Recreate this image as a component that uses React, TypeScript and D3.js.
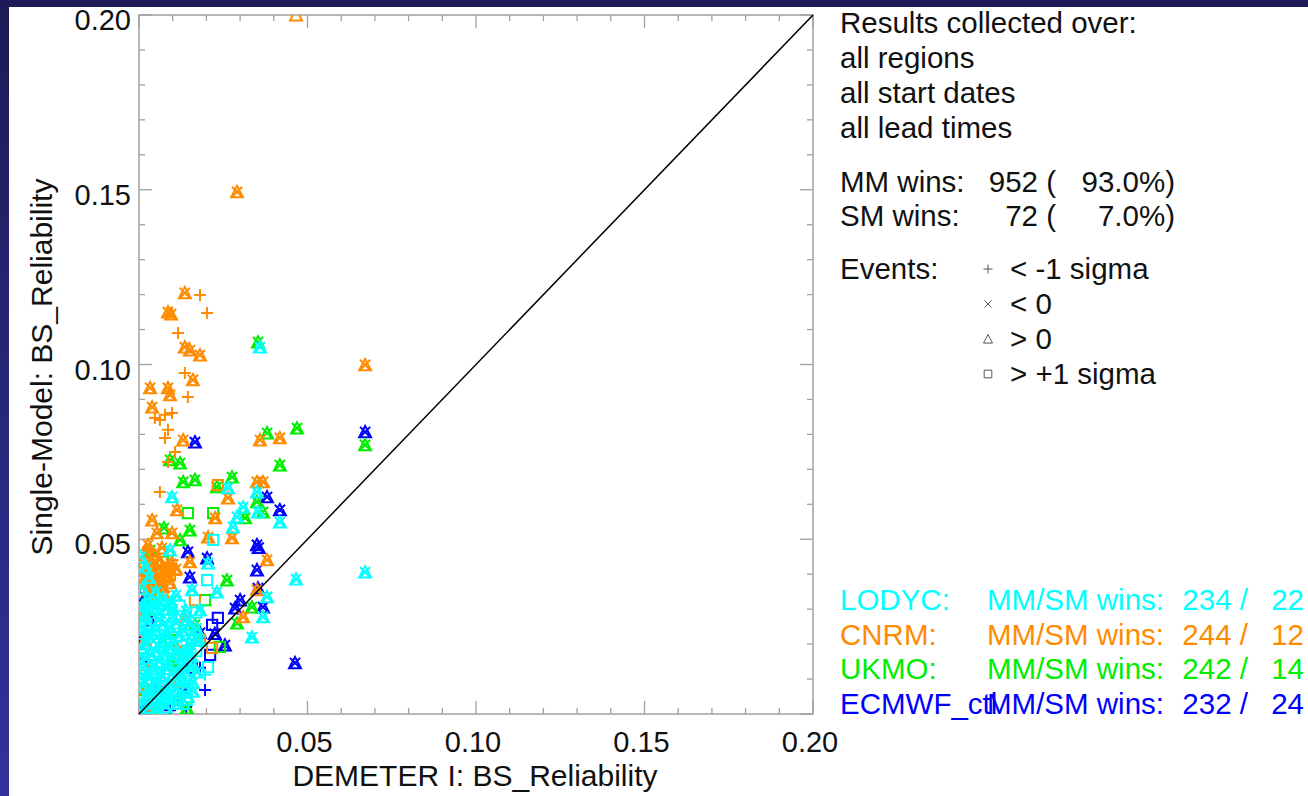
import React from 'react';
import * as d3 from 'd3';

type Pt = [number, number, string];

// values: [DEMETER BS_Reliability, single-model BS_Reliability, event marker]
const ecmwfPts: Pt[] = [
  [0.0671, 0.0807, 'xt'], [0.0166, 0.0778, 'xt'], [0.0380, 0.0621, 'xt'], [0.0418, 0.0584, 'xt'],
  [0.0350, 0.0484, 'xt'], [0.0355, 0.0476, 'xt'], [0.0145, 0.0464, 'xt'], [0.0350, 0.0412, 'xt'],
  [0.0018, 0.0335, 'xt'], [0.0368, 0.0306, 'xt'], [0.0285, 0.0303, 'xt'], [0.0463, 0.0146, 'xt'],
  [0.0234, 0.0275, 's'], [0.0217, 0.0255, 's'], [0.0181, 0.0232, 'xt'], [0.0181, 0.0132, 'p'],
  [0.0092, 0.0011, 'p'], [0.0157, 0.0132, 's'], [0.0062, 0.0069, 'xt'], [0.0202, 0.0446, 'xt'],
  [0.0151, 0.0392, 'xt'], [0.0009, 0.0212, 'xt'], [0.0116, 0.0040, 'p'], [0.0255, 0.0197, 'xt'],
  [0.0211, 0.0169, 's'], [0.0131, 0.0069, 'xt'], [0.0033, 0.0269, 'xt'], [0.0300, 0.0326, 'xt'],
  [0.0196, 0.0069, 'p'], [0.0012, 0.0150, 'xt'], [0.0140, 0.0020, 'p'], [0.0225, 0.0230, 'xt'],
  [0.0015, 0.0025, 'xt'], [0.0353, 0.0360, 'xt'],
];

const ukmoPts: Pt[] = [
  [0.0353, 0.1064, 'xt'], [0.0469, 0.0818, 'xt'], [0.0380, 0.0804, 'xt'], [0.0418, 0.0712, 'xt'],
  [0.0671, 0.0770, 'xt'], [0.0092, 0.0727, 'xt'], [0.0122, 0.0718, 'xt'], [0.0131, 0.0664, 'xt'],
  [0.0166, 0.0670, 'xt'], [0.0231, 0.0650, 'xt'], [0.0276, 0.0678, 'xt'], [0.0350, 0.0607, 'xt'],
  [0.0368, 0.0578, 'xt'], [0.0315, 0.0561, 'xt'], [0.0145, 0.0575, 's'], [0.0220, 0.0575, 's'],
  [0.0151, 0.0526, 'xt'], [0.0122, 0.0498, 'xt'], [0.0071, 0.0435, 's'], [0.0261, 0.0383, 'xt'],
  [0.0335, 0.0306, 'xt'], [0.0291, 0.0260, 'xt'], [0.0240, 0.0192, 's'], [0.0042, 0.0335, 'xt'],
  [0.0142, 0.0017, 'xt'], [0.0074, 0.0532, 'xt'], [0.0018, 0.0069, 'xt'], [0.0092, 0.0212, 's'],
  [0.0166, 0.0255, 'xt'], [0.0062, 0.0069, 'p'], [0.0196, 0.0326, 's'], [0.0018, 0.0298, 'xt'],
  [0.0033, 0.0469, 'xt'], [0.0110, 0.0140, 'xt'], [0.0050, 0.0020, 'xt'],
];

const cnrmPts: Pt[] = [
  [0.0466, 0.2000, 't'], [0.0291, 0.1494, 'xt'], [0.0671, 0.0999, 'xt'], [0.0136, 0.1205, 'xt'],
  [0.0181, 0.1199, 'p'], [0.0202, 0.1147, 'p'], [0.0086, 0.1150, 'xt'], [0.0095, 0.1144, 'xt'],
  [0.0116, 0.1090, 'p'], [0.0136, 0.1050, 'xt'], [0.0151, 0.1041, 'xt'], [0.0181, 0.1027, 'xt'],
  [0.0136, 0.0976, 'p'], [0.0160, 0.0956, 'xt'], [0.0033, 0.0933, 'xt'], [0.0086, 0.0933, 'xt'],
  [0.0092, 0.0913, 'xt'], [0.0145, 0.0907, 'p'], [0.0039, 0.0878, 'xt'], [0.0047, 0.0847, 'p'],
  [0.0062, 0.0841, 'p'], [0.0077, 0.0856, 'p'], [0.0098, 0.0861, 'p'], [0.0086, 0.0813, 'p'],
  [0.0077, 0.0790, 'p'], [0.0131, 0.0784, 'xt'], [0.0359, 0.0784, 'xt'], [0.0418, 0.0790, 'xt'],
  [0.0107, 0.0750, 'p'], [0.0086, 0.0721, 'p'], [0.0234, 0.0655, 's'], [0.0350, 0.0664, 'xt'],
  [0.0368, 0.0664, 'xt'], [0.0062, 0.0635, 'p'], [0.0264, 0.0618, 'xt'], [0.0276, 0.0504, 'xt'],
  [0.0113, 0.0584, 'xt'], [0.0226, 0.0561, 'xt'], [0.0098, 0.0518, 'xt'], [0.0053, 0.0518, 'xt'],
  [0.0205, 0.0506, 'xt'], [0.0151, 0.0435, 'xt'], [0.0380, 0.0441, 'xt'], [0.0350, 0.0355, 'xt'],
  [0.0309, 0.0278, 'xt'], [0.0217, 0.0189, 's'], [0.0122, 0.0092, 's'], [0.0033, 0.0010, 'p'],
  [0.0033, 0.0426, 'xt'], [0.0053, 0.0418, 'xt'], [0.0071, 0.0406, 'xt'], [0.0086, 0.0423, 'xt'],
  [0.0039, 0.0389, 'xt'], [0.0062, 0.0383, 'xt'], [0.0092, 0.0375, 'xt'], [0.0027, 0.0355, 'xt'],
  [0.0056, 0.0349, 'xt'], [0.0077, 0.0338, 'xt'], [0.0107, 0.0398, 'p'], [0.0047, 0.0455, 'xt'],
  [0.0027, 0.0484, 'xt'], [0.0068, 0.0475, 'xt'], [0.0009, 0.0283, 'xt'], [0.0018, 0.0212, 'xt'],
  [0.0012, 0.0140, 's'], [0.0024, 0.0074, 'xt'], [0.0136, 0.0269, 'xt'], [0.0166, 0.0326, 's'],
  [0.0116, 0.0183, 'xt'], [0.0181, 0.0212, 's'], [0.0039, 0.0555, 'xt'], [0.0015, 0.0410, 'xt'],
  [0.0020, 0.0390, 'xt'], [0.0100, 0.0440, 'p'], [0.0040, 0.0330, 'p'],
  [0.0035, 0.0440, 'xt'], [0.0060, 0.0440, 'xt'], [0.0080, 0.0410, 'xt'], [0.0045, 0.0405, 'xt'],
  [0.0020, 0.0375, 'xt'], [0.0070, 0.0365, 'xt'], [0.0050, 0.0370, 'xt'], [0.0095, 0.0430, 'xt'],
  [0.0110, 0.0415, 'xt'], [0.0010, 0.0435, 'xt'], [0.0025, 0.0465, 'xt'], [0.0085, 0.0395, 'xt'],
];

const lodycPts: Pt[] = [
  [0.0359, 0.1050, 'xt'], [0.0466, 0.0386, 'xt'], [0.0671, 0.0406, 'xt'], [0.0098, 0.0621, 'xt'],
  [0.0264, 0.0647, 'xt'], [0.0350, 0.0635, 'xt'], [0.0309, 0.0592, 'xt'], [0.0353, 0.0578, 'xt'],
  [0.0291, 0.0564, 'xt'], [0.0279, 0.0535, 'xt'], [0.0418, 0.0549, 'xt'], [0.0220, 0.0498, 's'],
  [0.0092, 0.0469, 'xt'], [0.0205, 0.0432, 'xt'], [0.0202, 0.0383, 's'], [0.0231, 0.0349, 'xt'],
  [0.0380, 0.0335, 'xt'], [0.0368, 0.0278, 'xt'], [0.0335, 0.0220, 'xt'], [0.0205, 0.0134, 's'],
  [0.0196, 0.0112, 'p'], [0.0142, 0.0040, 's'], [0.0056, 0.0046, 's'], [0.0071, 0.0017, 'p'],
  [0.0172, 0.0212, 'xt'], [0.0181, 0.0298, 'xt'], [0.0157, 0.0355, 'xt'],
  [0.001, 0.031, 'xt'], [0.004, 0.032, 'xt'], [0.008, 0.030, 'xt'], [0.012, 0.031, 's'],
  [0.002, 0.028, 'xt'], [0.006, 0.027, 'xt'], [0.010, 0.028, 'xt'], [0.014, 0.027, 'xt'],
  [0.017, 0.029, 's'], [0.001, 0.025, 'xt'], [0.005, 0.024, 'xt'], [0.009, 0.025, 'xt'],
  [0.013, 0.024, 'xt'], [0.016, 0.023, 'xt'], [0.003, 0.022, 'xt'], [0.007, 0.021, 'xt'],
  [0.011, 0.022, 's'], [0.015, 0.020, 'xt'], [0.018, 0.021, 'xt'], [0.001, 0.019, 'xt'],
  [0.005, 0.018, 'xt'], [0.009, 0.019, 'xt'], [0.013, 0.017, 'xt'], [0.017, 0.018, 's'],
  [0.002, 0.016, 'xt'], [0.006, 0.015, 'xt'], [0.010, 0.016, 'xt'], [0.014, 0.015, 'xt'],
  [0.016, 0.014, 'xt'], [0.001, 0.013, 'xt'], [0.004, 0.012, 'xt'], [0.008, 0.013, 'xt'],
  [0.012, 0.012, 'xt'], [0.015, 0.011, 's'], [0.003, 0.010, 'xt'], [0.007, 0.009, 'xt'],
  [0.011, 0.010, 'xt'], [0.014, 0.008, 'xt'], [0.001, 0.008, 'xt'], [0.005, 0.007, 'xt'],
  [0.009, 0.006, 'xt'], [0.012, 0.005, 'xt'], [0.002, 0.005, 'xt'], [0.006, 0.004, 'xt'],
  [0.010, 0.003, 'p'], [0.003, 0.002, 'xt'], [0.008, 0.002, 'xt'], [0.013, 0.003, 't'],
  [0.001, 0.036, 'xt'], [0.003, 0.039, 'xt'], [0.002, 0.042, 'xt'], [0.005, 0.035, 'xt'],
  [0.0005, 0.045, 'xt'], [0.011, 0.034, 'xt'], [0.007, 0.033, 'xt'],
  [0.0005, 0.0295, 'xt'], [0.003, 0.030, 'xt'], [0.006, 0.029, 'xt'], [0.010, 0.030, 'xt'],
  [0.014, 0.0295, 'xt'], [0.0025, 0.026, 'xt'], [0.007, 0.0255, 'xt'], [0.011, 0.026, 'xt'],
  [0.015, 0.0255, 'xt'], [0.0005, 0.023, 'xt'], [0.004, 0.023, 'xt'], [0.008, 0.023, 'xt'],
  [0.012, 0.0225, 'xt'], [0.017, 0.0245, 'xt'], [0.002, 0.020, 'xt'], [0.006, 0.0195, 'xt'],
  [0.010, 0.0205, 'xt'], [0.014, 0.0185, 'xt'], [0.0035, 0.017, 'xt'], [0.0075, 0.017, 'xt'],
  [0.0115, 0.0175, 'xt'], [0.0155, 0.0165, 'xt'], [0.0005, 0.015, 'xt'], [0.0045, 0.014, 'xt'],
  [0.0085, 0.0145, 'xt'], [0.0125, 0.014, 'xt'], [0.0025, 0.0115, 'xt'], [0.0065, 0.011, 'xt'],
  [0.010, 0.0115, 'xt'], [0.0135, 0.0125, 'xt'], [0.017, 0.012, 'xt'], [0.0005, 0.0105, 'xt'],
  [0.005, 0.009, 'xt'], [0.009, 0.0085, 'xt'], [0.0125, 0.0095, 'xt'], [0.016, 0.009, 'xt'],
  [0.0035, 0.007, 'xt'], [0.0075, 0.0065, 'xt'], [0.011, 0.007, 'xt'], [0.001, 0.003, 'xt'],
  [0.0045, 0.0045, 'xt'], [0.008, 0.0045, 'xt'], [0.0115, 0.003, 'xt'], [0.0145, 0.005, 'xt'],
  [0.016, 0.0065, 'xt'], [0.005, 0.001, 'xt'], [0.0005, 0.001, 'xt'], [0.0025, 0.033, 'xt'],
  [0.006, 0.0315, 'xt'], [0.0095, 0.032, 'xt'],
];

const models = ['LODYC:', 'CNRM:', 'UKMO:', 'ECMWF_ctl'];
const modelColors = ['#00ffff', '#ff8c00', '#00ee00', '#0000ff'];
const mmWins = [234, 244, 242, 232];
const smWins = [22, 12, 14, 24];
const modelPts = [lodycPts, cnrmPts, ukmoPts, ecmwfPts];
const drawOrder = [3, 2, 1, 0];

const tickValues = [0.05, 0.1, 0.15, 0.2];
const headerLines = ['Results collected over:', 'all regions', 'all start dates', 'all lead times'];
const winRows = [
  { label: 'MM wins:', count: '952 (', pct: '93.0%)' },
  { label: 'SM wins:', count: '72 (', pct: '7.0%)' },
];
const eventLabels = ['< -1 sigma', '< 0', '> 0', '> +1 sigma'];
const eventMarks = ['p', 'x', 't', 's'];

const W = 1308;
const H = 796;
const FONT = '"Liberation Sans", Arial, Helvetica, sans-serif';

function markerPath(t: string, s: number) {
  const plus = `M${-s},0H${s}M0,${-s}V${s}`;
  const cross = (k: number) => `M${-k},${-k}L${k},${k}M${k},${-k}L${-k},${k}`;
  const tri = `M0,${-s}L${s},${s * 0.9}L${-s},${s * 0.9}Z`;
  const sq = `M${-s * 0.85},${-s * 0.85}H${s * 0.85}V${s * 0.85}H${-s * 0.85}Z`;
  if (t === 'p') return plus;
  if (t === 'x') return cross(s * 0.8);
  if (t === 't') return tri;
  if (t === 's') return sq;
  return cross(s * 0.85) + tri;
}

export default function App() {
  const x = d3.scaleLinear().domain([0, 0.2]).range([139, 813]);
  const y = d3.scaleLinear().domain([0, 0.2]).range([714, 15]);
  const minor = x.ticks(20);

  return (
    <svg width={W} height={H} style={{ position: 'absolute', left: 0, top: 0 }} fontFamily={FONT}>
      <defs>
        <linearGradient id="bg" x1="0" y1="0" x2="0" y2="1">
          <stop offset="0" stopColor="#1d1b55" />
          <stop offset="1" stopColor="#31329c" />
        </linearGradient>
        <clipPath id="plotclip">
          <rect x={x(0)} y={y(0.2)} width={x(0.2) - x(0)} height={y(0) - y(0.2)} />
        </clipPath>
      </defs>
      <rect width={W} height={H} fill="url(#bg)" />
      <rect x={9} y={7} width={W - 9} height={H - 7} fill="#ffffff" />

      {/* frame and inward ticks */}
      <rect x={x(0)} y={y(0.2)} width={x(0.2) - x(0)} height={y(0) - y(0.2)} fill="none" stroke="#a0a0a0" strokeWidth={1.5} />
      {minor.map((v, i) => {
        const major = i % 5 === 0;
        const len = major ? 13 : 6;
        return (
          <g key={i} stroke="#a0a0a0" strokeWidth={1.3}>
            <line x1={x(v)} x2={x(v)} y1={y(0)} y2={y(0) - len} />
            <line x1={x(v)} x2={x(v)} y1={y(0.2)} y2={y(0.2) + len} />
            <line x1={x(0)} x2={x(0) + len} y1={y(v)} y2={y(v)} />
            <line x1={x(0.2)} x2={x(0.2) - len} y1={y(v)} y2={y(v)} />
          </g>
        );
      })}

      {/* points */}
      <g clipPath="url(#plotclip)" fill="none" strokeWidth={2}>
        {drawOrder.map((m) => (
          <g key={m} stroke={modelColors[m]}>
            {modelPts[m].map((p, i) => (
              <path key={i} transform={`translate(${x(p[0])},${y(p[1])})`} d={markerPath(p[2], 6)} />
            ))}
          </g>
        ))}
      </g>
      <line x1={x(0)} y1={y(0)} x2={x(0.2)} y2={y(0.2)} stroke="#000" strokeWidth={1.5} />

      {/* tick labels */}
      <g fontSize={29} fill="#111">
        {tickValues.map((v) => (
          <text key={'y' + v} x={131} y={y(v) + 15} textAnchor="end">{d3.format('.2f')(v)}</text>
        ))}
        {tickValues.map((v) => (
          <text key={'x' + v} x={x(v) - 3} y={752} textAnchor="middle">{d3.format('.2f')(v)}</text>
        ))}
      </g>
      <text x={475} y={786} fontSize={30} textAnchor="middle" fill="#111">DEMETER I: BS_Reliability</text>
      <text transform="translate(52,367) rotate(-90)" fontSize={30} textAnchor="middle" fill="#111">Single-Model: BS_Reliability</text>

      {/* summary text */}
      <g fontSize={29.5} fill="#111">
        {headerLines.map((t, i) => (
          <text key={t} x={840} y={33 + i * 35}>{t}</text>
        ))}
        {winRows.map((r, i) => (
          <g key={r.label}>
            <text x={840} y={192 + i * 34}>{r.label}</text>
            <text x={1056} y={192 + i * 34} textAnchor="end">{r.count}</text>
            <text x={1175} y={192 + i * 34} textAnchor="end">{r.pct}</text>
          </g>
        ))}
        <text x={840} y={279}>Events:</text>
        {eventLabels.map((t, i) => (
          <g key={t}>
            <path transform={`translate(988,${269 + i * 35})`} d={markerPath(eventMarks[i], 4.5)} fill="none" stroke="#555" strokeWidth={1} />
            <text x={1010} y={279 + i * 35}>{t}</text>
          </g>
        ))}
      </g>

      {/* per-model legend */}
      <g fontSize={29.5}>
        {models.map((m, i) => (
          <g key={m} fill={modelColors[i]}>
            <text x={840} y={610 + i * 34.5}>{m}</text>
            <text x={987} y={610 + i * 34.5}>MM/SM wins:</text>
            <text x={1248} y={610 + i * 34.5} textAnchor="end">{mmWins[i]} /</text>
            <text x={1304} y={610 + i * 34.5} textAnchor="end">{smWins[i]}</text>
          </g>
        ))}
      </g>
    </svg>
  );
}
